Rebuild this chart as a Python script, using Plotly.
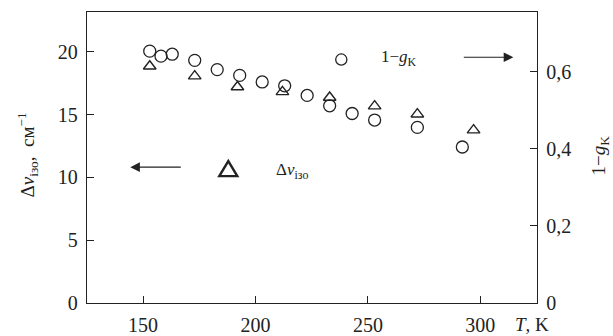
import plotly.graph_objects as go

# 1 - g_K (circles, right axis)
T_g = [153, 158, 163, 173, 183, 193, 203, 213, 223, 233, 243, 253, 272, 292]
g_vals = [0.654, 0.641, 0.646, 0.630, 0.606, 0.591, 0.574, 0.564, 0.539, 0.512, 0.492, 0.475, 0.456, 0.405]

# Delta nu_iso (triangles, left axis)
T_nu = [153, 173, 192, 212, 233, 253, 272, 297]
nu_vals = [18.86, 18.07, 17.21, 16.82, 16.37, 15.68, 15.04, 13.77]

x_ticks = [150, 200, 250, 300]
y1_ticks = [0, 5, 10, 15, 20]
y2_ticks = [0, 0.2, 0.4, 0.6]
y2_ticktext = ["0", "0,2", "0,4", "0,6"]

INK = "#222222"
FONT = "Liberation Serif"

fig = go.Figure()
fig.add_trace(go.Scatter(
    x=T_nu, y=nu_vals, mode="markers", yaxis="y",
    marker=dict(symbol="triangle-up-open", size=11, color=INK, line=dict(width=1.4, color=INK)),
    showlegend=False))
fig.add_trace(go.Scatter(
    x=T_g, y=g_vals, mode="markers", yaxis="y2",
    marker=dict(symbol="circle-open", size=12, color=INK, line=dict(width=1.3, color=INK)),
    showlegend=False))

L, R, TOP, BOT = 86.7, 536.7, 11.7, 303.0
W, H = R - L, BOT - TOP

def px(x):
    return (x - L) / W

def py(y):
    return (BOT - y) / H

shapes = []
# legend circle for 1-g_K
cx, cy, r = 341, 59.3, 5.6
shapes.append(dict(type="circle", xref="paper", yref="paper",
                   x0=px(cx - r), x1=px(cx + r), y0=py(cy + r), y1=py(cy - r),
                   line=dict(color=INK, width=1.3)))
# big legend triangle for delta nu
tx, ty = 228, 169
path = "M {a},{b} L {c},{d} L {e},{f} Z".format(
    a=px(tx - 9), b=py(ty + 7), c=px(tx + 9), d=py(ty + 7), e=px(tx), f=py(ty - 8))
shapes.append(dict(type="path", xref="paper", yref="paper", path=path,
                   line=dict(color=INK, width=2.4)))

def label(x, y, text, size=18, angle=0):
    return dict(x=px(x), y=py(y), xref="paper", yref="paper", showarrow=False,
                xanchor="center", yanchor="middle", textangle=angle,
                text=text, font=dict(family=FONT, size=size, color=INK))

annotations = [
    # right arrow
    dict(x=px(513), y=py(57), xref="paper", yref="paper", ax=-51, ay=0,
         axref="pixel", ayref="pixel", text="", showarrow=True,
         arrowhead=2, arrowsize=1.6, arrowwidth=1.2, arrowcolor=INK),
    # left arrow
    dict(x=px(130), y=py(167), xref="paper", yref="paper", ax=52, ay=0,
         axref="pixel", ayref="pixel", text="", showarrow=True,
         arrowhead=2, arrowsize=1.6, arrowwidth=1.2, arrowcolor=INK),
    label(399, 58, "1−<i>g</i><sub>K</sub>", 17),
    label(292, 171, "Δ<i>ν</i><sub>ізо</sub>", 17),
    label(532, 325, "<i>T</i>, K", 19),
    label(27, 155, "Δ<i>ν</i><sub>ізо</sub>,  см<sup>−1</sup>", 19, -90),
    label(600, 155, "1−<i>g</i><sub>K</sub>", 19, -90),
]

axis_common = dict(ticks="inside", ticklen=7, tickwidth=1.2, tickcolor=INK,
                   showline=True, linecolor=INK, linewidth=1.3, showgrid=False,
                   zeroline=False, automargin=False, ticklabelstandoff=4,
                   tickfont=dict(family=FONT, size=20, color=INK))

fig.update_layout(
    width=613, height=336,
    margin=dict(l=L, r=613 - R, t=TOP, b=336 - BOT, autoexpand=False),
    paper_bgcolor="white", plot_bgcolor="white",
    font=dict(family=FONT, size=20, color=INK),
    xaxis=dict(range=[125.1, 325.2], tickvals=x_ticks, mirror=True, **axis_common),
    yaxis=dict(range=[0, 23.18], tickvals=y1_ticks, mirror=True, **axis_common),
    yaxis2=dict(range=[0, 0.7556], tickvals=y2_ticks, ticktext=y2_ticktext,
                overlaying="y", side="right", **axis_common),
    shapes=shapes, annotations=annotations,
)

fig.write_html("out.html", config={"displayModeBar": False},
               post_script="document.body.style.margin='0';document.body.style.padding='0';")
